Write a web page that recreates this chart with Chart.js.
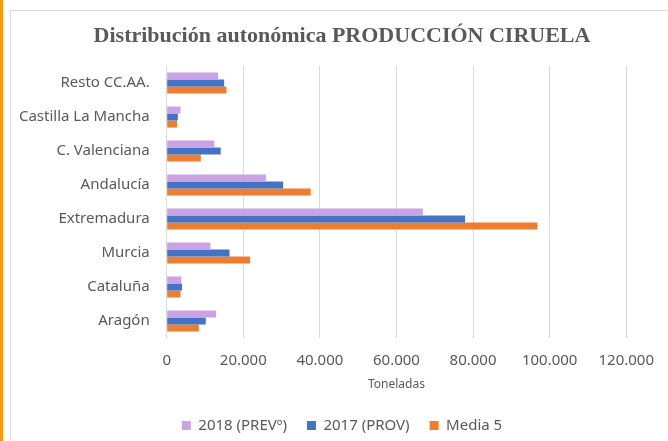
<!DOCTYPE html>
<html>
<head>
<meta charset="utf-8">
<script src="https://cdn.jsdelivr.net/npm/chart.js@4.4.1/dist/chart.umd.min.js"></script>
<style>
  html, body { margin: 0; padding: 0; background: #fff; }
  body { width: 668px; height: 441px; position: relative; overflow: hidden; }
  #franja { position: absolute; left: 0; top: 0; width: 3px; height: 441px; background: #f39c12; }
  #marco { position: absolute; left: 10px; top: 10px; width: 658px; height: 431px;
           border-left: 1px solid #d9d9d9; border-top: 1px solid #d9d9d9; box-sizing: border-box; }
  #contenedor { position: absolute; left: 0; top: 0; width: 668px; height: 443px; }
</style>
</head>
<body>
<div id="franja"></div>
<div id="marco"></div>
<div id="contenedor"><canvas id="graph"></canvas></div>
<script>
// Datos del gráfico
const comunidades = ['Resto CC.AA.', 'Castilla La Mancha', 'C. Valenciana', 'Andalucía',
                     'Extremadura', 'Murcia', 'Cataluña', 'Aragón'];
const serie2018 = [13400, 3600, 12450, 25900, 66900, 11400, 3800, 12900];
const serie2017 = [15000, 2900, 14100, 30400, 77900, 16400, 4000, 10200];
const media5 = [15600, 2700, 8900, 37600, 96800, 21800, 3600, 8400];
const ticksX = [0, 20000, 40000, 60000, 80000, 100000, 120000];

const gris = '#595959';
const fuente = "'Noto Sans', sans-serif";

const ctx = document.getElementById('graph').getContext('2d');

// deja que las etiquetas largas del eje Y salgan del relleno izquierdo sin recortarse
const etiquetasLibres = {
    id: 'etiquetasLibres',
    afterLayout(chart) { chart.scales.y.left = 0; }
};

const data = {
    labels: comunidades,
    datasets: [
        { label: '2018 (PREVº)', data: serie2018, backgroundColor: '#c9a3e3' },
        { label: '2017 (PROV)', data: serie2017, backgroundColor: '#4472c4' },
        { label: 'Media 5', data: media5, backgroundColor: '#ed7d31' }
    ]
};

const config = {
    type: 'bar',
    data: data,
    plugins: [etiquetasLibres],
    options: {
        indexAxis: 'y',
        responsive: true,
        maintainAspectRatio: false,
        animation: false,
        datasets: { bar: { categoryPercentage: 0.62, barPercentage: 1.0 } },
        // el relleno lateral centra título y leyenda como en el original
        layout: { padding: { left: 55.5, right: 39.5, top: 0, bottom: 0 } },
        scales: {
            x: {
                min: 0,
                max: 120000,
                afterBuildTicks: (s) => { s.ticks = ticksX.map(v => ({ value: v })); },
                afterFit: (s) => { s.height = 60; },
                grid: { color: '#d9d9d9', drawTicks: false, lineWidth: 1 },
                border: { display: false },
                ticks: {
                    padding: 14,
                    color: gris,
                    font: { family: fuente, size: 15 },
                    callback: (v) => v.toLocaleString('de-DE')
                },
                title: {
                    display: true,
                    text: 'Toneladas',
                    color: gris,
                    font: { family: fuente, size: 12 },
                    padding: { top: 0, bottom: 6 }
                }
            },
            y: {
                afterFit: (s) => { s.width = 111.2; },
                grid: { display: false, drawTicks: false },
                border: { display: true, color: '#d9d9d9' },
                ticks: {
                    padding: 17,
                    color: gris,
                    font: { family: fuente, size: 15 }
                }
            }
        },
        plugins: {
            title: {
                display: true,
                text: 'Distribución autonómica PRODUCCIÓN CIRUELA',
                color: gris,
                font: { family: "'Liberation Serif', serif", size: 22, weight: 'bold' },
                padding: { top: 22.8, bottom: 16.8 }
            },
            legend: {
                position: 'bottom',
                labels: {
                    boxWidth: 9,
                    boxHeight: 9,
                    color: gris,
                    padding: 20,
                    font: { family: fuente, size: 15 }
                }
            },
            tooltip: { enabled: false }
        }
    }
};

const myChart = new Chart(ctx, config);
</script>
</body>
</html>
